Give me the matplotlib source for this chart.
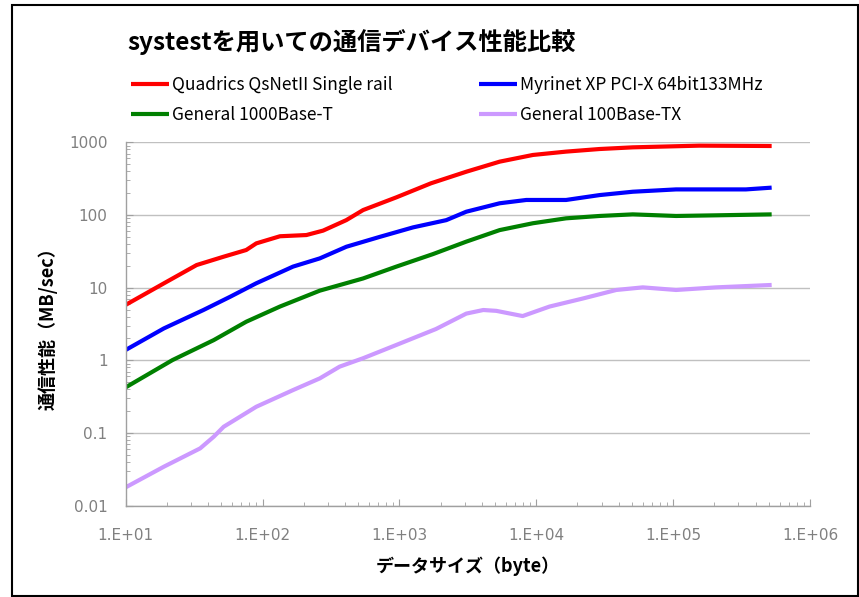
#!/usr/bin/env python3
"""systest communication device comparison (log-log throughput vs message size)."""

import matplotlib
matplotlib.use("Agg")
import matplotlib.pyplot as plt
from matplotlib.patches import Rectangle
from matplotlib.ticker import FixedLocator, LogLocator, NullFormatter

plt.rcParams["font.family"] = ["Noto Sans CJK JP", "DejaVu Sans"]

# --- data (bytes, MB/sec) ---
quad_x = [10, 20, 33, 52, 76, 90, 134, 209, 277, 409, 543, 950, 1700, 3080,
          5400, 9440, 16500, 29000, 50700, 155000, 524288]
quad_y = [5.8, 12.1, 20.5, 26.7, 33, 40.7, 51, 53, 61, 85, 117, 175, 273, 394,
          542, 670, 745, 809, 853, 900, 890]

myri_x = [10, 19, 37, 58, 90, 167, 262, 410, 718, 1259, 2200, 3080, 5400,
          8450, 16500, 29000, 50700, 105000, 340000, 524288]
myri_y = [1.39, 2.75, 4.93, 7.5, 11.5, 19.5, 25.3, 36.6, 50, 67.6, 85, 111, 145,
          161, 161, 188, 209, 225, 225, 238]

gige_x = [10, 22, 44, 76, 134, 262, 543, 950, 1760, 3080, 5400, 9440, 16500,
          29000, 50700, 105000, 206000, 524288]
gige_y = [0.425, 1.01, 1.9, 3.4, 5.5, 9.1, 13.4, 19.5, 29, 43, 62, 77, 90,
          97, 102, 97, 99, 102]

fe_x = [10, 19, 35, 44, 52, 90, 167, 262, 366, 543, 950, 1850, 3080, 4100,
        5100, 7950, 12500, 21900, 38400, 60000, 105000, 206000, 524288]
fe_y = [0.0179, 0.0344, 0.0615, 0.089, 0.122, 0.23, 0.39, 0.565, 0.82, 1.07,
        1.63, 2.7, 4.4, 4.93, 4.8, 4.07, 5.5, 7.1, 9.3, 10.1, 9.3, 10.1, 10.9]

series_labels = ["Quadrics QsNetII Single rail", "Myrinet XP PCI-X 64bit133MHz",
                 "General 1000Base-T", "General 100Base-TX"]
series_colors = ["#FF0000", "#0000FF", "#008000", "#CC99FF"]

xticks = [1e1, 1e2, 1e3, 1e4, 1e5, 1e6]
xtick_labels = ["1.E+01", "1.E+02", "1.E+03", "1.E+04", "1.E+05", "1.E+06"]
yticks = [0.01, 0.1, 1, 10, 100, 1000]
ytick_labels = ["0.01", "0.1", "1", "10", "100", "1000"]

fig = plt.figure(figsize=(8.59, 5.97), dpi=100)
ax = fig.add_axes([0.1463, 0.1529, 0.7967, 0.6087])

series = [(quad_x, quad_y), (myri_x, myri_y), (gige_x, gige_y), (fe_x, fe_y)]
lines = []
for (xs, ys), lab, col in zip(series, series_labels, series_colors):
    ln, = ax.plot(xs, ys, color=col, lw=3.0, label=lab, solid_capstyle="butt")
    lines.append(ln)

ax.set_xscale("log")
ax.set_yscale("log")
ax.set_xlim(10, 1e6)
ax.set_ylim(0.01, 1000)

ax.xaxis.set_major_locator(FixedLocator(xticks))
ax.set_xticklabels(xtick_labels, family="DejaVu Sans")
ax.yaxis.set_major_locator(FixedLocator(yticks))
ax.set_yticklabels(ytick_labels, family="DejaVu Sans")
ax.xaxis.set_minor_locator(LogLocator(base=10, subs=range(2, 10)))
ax.yaxis.set_minor_locator(LogLocator(base=10, subs=range(2, 10)))
ax.xaxis.set_minor_formatter(NullFormatter())
ax.yaxis.set_minor_formatter(NullFormatter())

ax.tick_params(which="major", direction="in", length=5, width=0.8, color="#A0A0A0",
               labelsize=11, labelcolor="#808080")
ax.tick_params(axis="x", which="major", pad=16)
ax.tick_params(axis="y", which="major", pad=13)
ax.tick_params(which="minor", direction="in", length=3, width=0.6, color="#A0A0A0")

ax.grid(True, axis="y", which="major", color="#C0C0C0", lw=1.0)
ax.set_axisbelow(True)
for side in ("top", "right"):
    ax.spines[side].set_visible(False)
for side in ("left", "bottom"):
    ax.spines[side].set_color("#A0A0A0")
    ax.spines[side].set_linewidth(1.0)

ax.set_xlabel("データサイズ（byte）", fontsize=13, fontweight="bold", labelpad=10)
ax.set_ylabel("通信性能（MB/sec）", fontsize=13, fontweight="bold", labelpad=8)

fig.text(127 / 859, 1 - 42 / 597, "systestを用いての通信デバイス性能比較",
         fontsize=17.5, fontweight="bold", ha="left", va="center")

# legend fills column-wise, so order handles to get the reference's row layout
leg_order = [0, 2, 1, 3]
fig.legend(handles=[lines[i] for i in leg_order], loc="upper left", ncol=2,
           frameon=False, bbox_to_anchor=(124 / 859, 1 - 69 / 597), fontsize=12.5,
           handlelength=2.2, handletextpad=0.15, columnspacing=5.0,
           labelspacing=0.72, borderaxespad=0)

fig.patches.append(Rectangle((12 / 859, 1 - 596 / 597), 846 / 859, 591 / 597,
                             transform=fig.transFigure, fill=False,
                             edgecolor="black", lw=1.5))

fig.savefig("out.png", dpi=100)
